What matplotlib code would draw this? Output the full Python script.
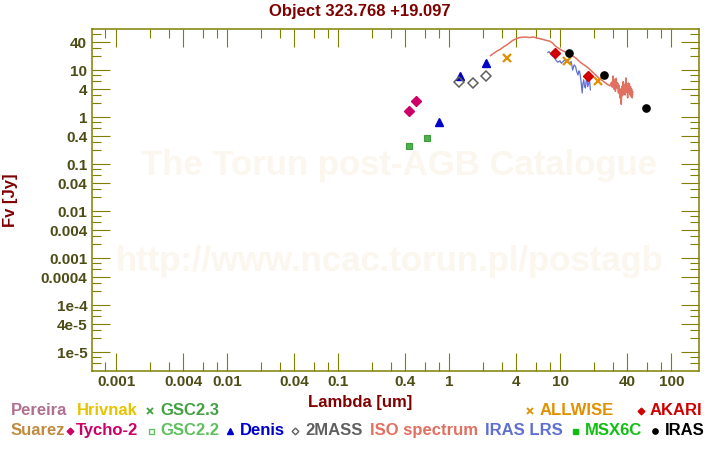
import matplotlib
matplotlib.use("Agg")
import matplotlib.pyplot as plt
from matplotlib.lines import Line2D
import numpy as np

plt.rcParams['font.family'] = ['Liberation Sans', 'DejaVu Sans']

# ---------------- data ----------------
tycho_wl = [0.435, 0.505]
tycho_f = [1.36, 2.21]

gsc22_wl = [0.435, 0.632]
gsc22_f = [0.244, 0.361]

denis_wl = [0.805, 1.24, 2.13]
denis_f = [0.814, 7.64, 14.7]

tmass_wl = [1.225, 1.64, 2.13]
tmass_f = [5.78, 5.5, 7.53]

allwise_wl = [3.31, 11.4, 21.7]
allwise_f = [18.2, 15.9, 5.89]

akari_wl = [8.93, 17.7]
akari_f = [23.2, 7.64]

iras_wl = [11.9, 24.6, 58.6]
iras_f = [23.2, 7.9, 1.57]

iso_wl = [2.35, 2.5, 2.7, 2.9, 3.1, 3.3, 3.5, 3.75, 4.0, 4.3, 4.6, 4.95, 5.3, 5.7,
          6.1, 6.6, 7.1, 7.6, 8.0, 8.5, 9.0, 9.5, 10.0, 10.5, 11.0, 11.5, 12.0, 12.6,
          13.2, 13.9, 14.6, 15.3, 16.0, 16.8, 17.6, 18.4, 19.2, 20.0, 21.0, 22.0, 23.0,
          24.0, 25.0, 26.0, 27.0, 28.0, 28.8, 29.3, 29.8, 30.3, 30.8, 31.3, 31.8, 32.3,
          32.8, 33.3, 33.8, 34.3, 34.8, 35.3, 35.8, 36.3, 36.8, 37.3, 37.8, 38.3, 38.8,
          39.3, 39.8, 40.3, 40.8, 41.3, 41.8, 42.3, 42.8, 43.3, 43.8, 44.3, 44.8]
iso_f = [20.6, 23.0, 26.0, 28.5, 32.0, 35.0, 39.0, 44.0, 47.0, 50.0, 51.0, 51.0, 50.0, 51.5,
         49.0, 47.0, 45.0, 43.0, 42.0, 38.0, 33.0, 30.0, 28.0, 26.0, 25.0, 24.0, 23.0, 21.0,
         19.5, 18.0, 16.0, 14.5, 13.5, 12.5, 11.5, 10.5, 9.5, 8.7, 7.8, 7.0, 6.4,
         6.0, 5.6, 5.2, 4.9, 4.7, 5.6, 4.4, 7.6, 4.0, 6.4, 3.6, 6.8, 4.2,
         5.4, 3.3, 4.8, 2.6, 4.0, 1.9, 4.6, 2.9, 5.8, 3.2, 5.0, 3.0, 6.9,
         3.4, 4.7, 2.6, 5.4, 3.5, 5.2, 3.0, 4.5, 2.8, 4.0, 2.6, 3.5]

lrs_wl = [7.7, 7.9, 8.3, 8.9, 9.2, 9.5, 9.9, 10.2, 10.6, 10.9, 11.3, 11.7, 12.1, 12.5,
          12.9, 13.3, 13.7, 14.0, 14.4, 14.7, 14.9, 15.2, 15.4, 15.7, 15.9, 16.2, 16.5,
          16.8, 17.0, 17.3, 17.6, 18.0, 18.3, 18.6]
lrs_f = [24.0, 25.1, 21.0, 18.2, 16.0, 14.9, 16.0, 14.2, 15.5, 16.7, 15.0, 15.8, 14.2, 15.4,
         10.2, 13.1, 12.0, 9.5, 8.0, 9.8, 9.4, 6.8, 5.3, 3.3, 5.0, 6.3, 4.6,
         4.2, 5.6, 7.4, 4.5, 5.3, 6.3, 3.85]

xtick_vals = [0.001, 0.004, 0.01, 0.04, 0.1, 0.4, 1, 4, 10, 40, 100]
xtick_labels = ['0.001', '0.004', '0.01', '0.04', '0.1', '0.4', '1', '4', '10', '40', '100']
ytick_vals = [40, 10, 4, 1, 0.4, 0.1, 0.04, 0.01, 0.004, 0.001, 0.0004, 1e-4, 4e-5, 1e-5]
ytick_labels = ['40', '10', '4', '1', '0.4', '0.1', '0.04', '0.01', '0.004', '0.001',
                '0.0004', '1e-4', '4e-5', '1e-5']

# ---------------- figure ----------------
W, H = 720, 450
fig = plt.figure(figsize=(7.2, 4.5), dpi=100)
ax = fig.add_axes([92 / W, 1 - 371 / H, (699 - 92) / W, (371 - 29) / H])
ax.set_xscale('log')
ax.set_yscale('log')

olive = '#808000'
lblcol = '#4d4d18'
for s in ax.spines.values():
    s.set_color(olive)
    s.set_linewidth(1.1)

# watermark
wm = '#fbf6ee'
ax.text(0.505, 0.602, 'The Torun post-AGB Catalogue', transform=ax.transAxes,
        ha='center', va='center', fontsize=25, fontweight='bold', color=wm, zorder=0)
ax.text(0.49, 0.319, 'http://www.ncac.torun.pl/postagb', transform=ax.transAxes,
        ha='center', va='center', fontsize=25, fontweight='bold', color=wm, zorder=0)

# ticks
ax.set_xticks(xtick_vals)
xminor = []
for d in [1e-4, 1e-3, 1e-2, 1e-1, 1, 10, 100]:
    for m in [2, 3, 6, 8]:
        xminor.append(d * m)
ax.set_xticks(xminor, minor=True)
ax.set_yticks(ytick_vals)
yminor = []
for d in [1e-6, 1e-5, 1e-4, 1e-3, 1e-2, 1e-1, 1, 10]:
    for m in [2, 3, 6, 8]:
        yminor.append(d * m)
ax.set_yticks(yminor, minor=True)
ax.set_xticklabels(xtick_labels, fontweight='bold', fontsize=11, color=lblcol)
ax.set_yticklabels(ytick_labels, fontweight='bold', fontsize=11, color=lblcol)
ax.tick_params(which='both', direction='in', top=True, right=True, color=olive,
               width=0.8)
ax.tick_params(which='major', length=13)
ax.tick_params(which='minor', length=6.5)
ax.tick_params(axis='x', which='major', pad=3)
ax.tick_params(axis='y', which='major', pad=3.5)

# data
ax.plot(iso_wl, iso_f, color='#e07060', lw=1.1, zorder=2)
ax.plot(lrs_wl, lrs_f, color='#6070d0', lw=0.9, zorder=3)
ax.plot(tycho_wl, tycho_f, 'D', color='#cc0066', ms=4.6, mec='#cc0066', zorder=4)
ax.plot(gsc22_wl, gsc22_f, 's', color='#50b050', ms=5, mec='#3c9c3c', mew=0.8, zorder=4)
ax.plot(denis_wl, denis_f, '^', color='#0000cc', ms=5.6, zorder=4)
ax.plot(tmass_wl, tmass_f, 'D', mfc='none', mec='#606060', ms=4.6, mew=1.1, zorder=4)
ax.plot(allwise_wl, allwise_f, 'x', color='#e09000', ms=5.2, mew=1.6, zorder=5)
ax.plot(akari_wl, akari_f, 'D', color='#d00000', ms=4.6, zorder=5)
ax.plot(iras_wl, iras_f, 'o', color='#000000', ms=5.2, zorder=5)

# limits last (set_ticks can widen the view)
ax.set_xlim(0.000605, 177)
ax.set_ylim(4.0e-6, 76)

# titles / labels
dark_red = '#800000'
fig.text(0.5, 1 - 11.5 / H, 'Object 323.768 +19.097', ha='center', va='center',
         fontsize=12, fontweight='bold', color=dark_red)
fig.text(0.5, 1 - 403 / H, 'Lambda [um]', ha='center', va='center',
         fontsize=12, fontweight='bold', color=dark_red)
fig.text(10 / W, 1 - 200 / H, 'Fv [Jy]', ha='center', va='center', rotation=90,
         fontsize=12, fontweight='bold', color=dark_red)

# legend
r1, r2 = 410.7, 430.7
entries = [
    # text, x, y, color, marker, marker x, filled
    ('Pereira', 11, r1, '#b07090', None, 0, True),
    ('Hrivnak', 77, r1, '#e6c400', None, 0, True),
    ('GSC2.3', 160, r1, '#44a044', 'x', 150.3, True),
    ('ALLWISE', 539.5, r1, '#e09000', 'x', 530, True),
    ('AKARI', 649.5, r1, '#d00000', 'D', 641, True),
    ('Suarez', 10.5, r2, '#c08a40', None, 0, True),
    ('Tycho-2', 75.5, r2, '#cc0066', 'D', 70, True),
    ('GSC2.2', 160, r2, '#60c060', 's', 150.5, False),
    ('Denis', 240, r2, '#0000cc', '^', 230, True),
    ('2MASS', 305, r2, '#606060', 'D', 294.7, False),
    ('ISO spectrum', 370, r2, '#e07060', None, 0, True),
    ('IRAS LRS', 485, r2, '#6070d0', None, 0, True),
    ('MSX6C', 585, r2, '#10c010', 's', 575.3, True),
    ('IRAS', 664.5, r2, '#000000', 'o', 655, True),
]
for txt, x, y, col, mk, mx, filled in entries:
    fig.text(x / W, 1 - y / H, txt, ha='left', va='center', fontsize=12,
             fontweight='bold', color=col)
    if mk is not None:
        ms = {'x': 4.2, 'D': 3.4, 's': 3.6, '^': 4.2, 'o': 3.8}[mk]
        ln = Line2D([mx / W], [1 - (y + 0.5) / H], marker=mk, transform=fig.transFigure,
                    color=col, mfc=col if filled else 'none', mec=col, ms=ms,
                    mew=1.3 if mk == 'x' else 1.0, linestyle='none')
        fig.add_artist(ln)

fig.savefig('out.png', dpi=100)
